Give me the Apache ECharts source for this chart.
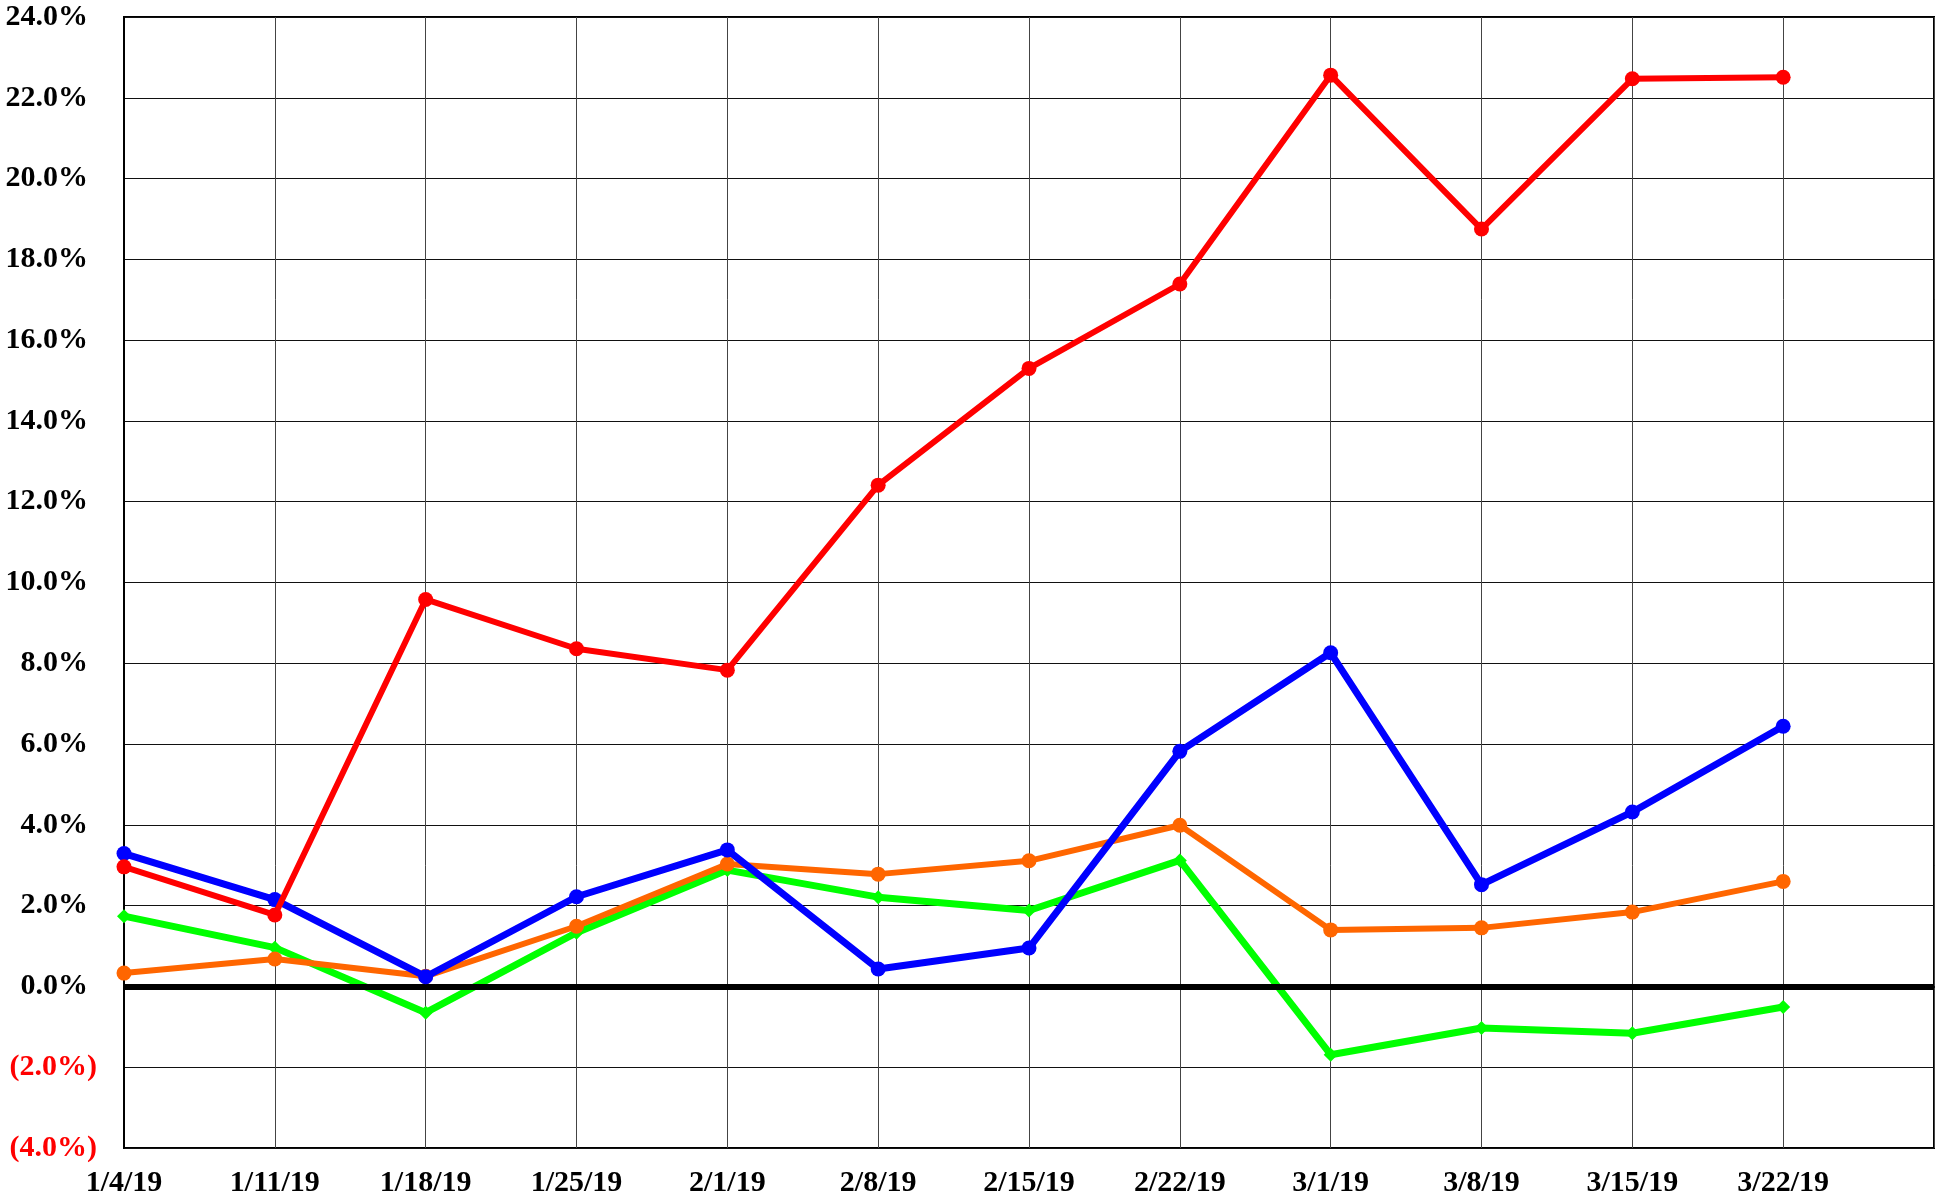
<!DOCTYPE html>
<html>
<head>
<meta charset="utf-8">
<script src="https://cdn.jsdelivr.net/npm/echarts@6/dist/echarts.min.js"></script>
<style>
html,body{margin:0;padding:0;background:#fff;}
#chart{width:1946px;height:1200px;}
</style>
</head>
<body>
<div id="chart"></div>
<script>
// Categories (last slot is an empty spacer week, as in the reference)
const categories = ['1/4/19','1/11/19','1/18/19','1/25/19','2/1/19','2/8/19','2/15/19','2/22/19','3/1/19','3/8/19','3/15/19','3/22/19',''];

// Series values (percent)
const redValues    = [2.96, 1.77, 9.58, 8.36, 7.83, 12.41, 15.30, 17.39, 22.56, 18.75, 22.47, 22.51];
const blueValues   = [3.29, 2.15, 0.24, 2.22, 3.38, 0.43, 0.95, 5.82, 8.26, 2.52, 4.32, 6.44];
const orangeValues = [0.33, 0.68, 0.25, 1.49, 3.03, 2.78, 3.11, 3.99, 1.40, 1.45, 1.84, 2.60];
const greenValues  = [1.74, 0.96, -0.65, 1.33, 2.88, 2.21, 1.88, 3.12, -1.69, -1.03, -1.16, -0.51];

// Y axis ticks
const yMin = -4, yMax = 24, yStep = 2;

const FONT = '"Liberation Serif", "Times New Roman", serif';

const chart = echarts.init(document.getElementById('chart'), null, {renderer: 'canvas'});

function lineSeries(name, data, color, symbol, symbolSize, width, z) {
  return {
    name: name,
    type: 'line',
    data: data,
    symbol: symbol,
    symbolSize: symbolSize,
    showSymbol: true,
    z: z,
    lineStyle: {color: color, width: width},
    itemStyle: {color: color, borderWidth: 0},
    animation: false
  };
}

const zeroLineSeries = {
  name: 'zero',
  type: 'line',
  data: [],
  z: 1,
  markLine: {
    silent: true,
    symbol: ['none','none'],
    label: {show: false},
    lineStyle: {color: '#000', width: 6, type: 'solid'},
    data: [{yAxis: 0}],
    animation: false
  }
};

const labelStyle = {fontFamily: FONT, fontWeight: 'bold', fontSize: 30};

chart.setOption({
  backgroundColor: '#ffffff',
  animation: false,
  grid: {
    left: 124, right: 12, top: 17, bottom: 52,
    show: true, borderColor: '#000', borderWidth: 2, backgroundColor: 'transparent'
  },
  xAxis: {
    type: 'category',
    data: categories,
    boundaryGap: false,
    axisLine: {show: true, lineStyle: {color: '#000', width: 2}},
    axisTick: {show: false},
    axisLabel: {
      interval: 0,
      margin: 20,
      color: '#000',
      fontFamily: FONT,
      fontWeight: 'bold',
      fontSize: 30
    },
    splitLine: {show: true, interval: 0, lineStyle: {color: '#444', width: 1}}
  },
  yAxis: {
    type: 'value',
    min: yMin,
    max: yMax,
    interval: yStep,
    axisLine: {show: true, lineStyle: {color: '#000', width: 2}},
    axisTick: {show: false},
    axisLabel: {
      margin: 27,
      fontFamily: FONT,
      fontWeight: 'bold',
      fontSize: 30,
      formatter: function (v) {
        return v < 0
          ? '{neg|(' + Math.abs(v).toFixed(1) + '%)}'
          : '{pos|' + v.toFixed(1) + '%}';
      },
      rich: {
        neg: Object.assign({color: '#ff0000'}, labelStyle),
        pos: Object.assign({color: '#000000', padding: [0, 9, 0, 0]}, labelStyle)
      }
    },
    splitLine: {show: true, lineStyle: {color: '#111', width: 1}}
  },
  series: [
    zeroLineSeries,
    lineSeries('Green', greenValues, '#00ff00', 'diamond', 14, 7, 3),
    lineSeries('Orange', orangeValues, '#ff6600', 'circle', 15, 6, 4),
    lineSeries('Blue', blueValues, '#0000ff', 'circle', 15, 7, 5),
    lineSeries('Red', redValues, '#ff0000', 'circle', 15, 6, 6)
  ]
});
</script>
</body>
</html>
